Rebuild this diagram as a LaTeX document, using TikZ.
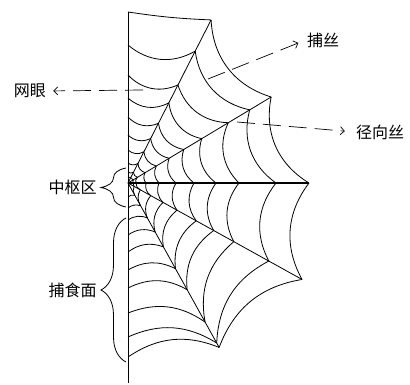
\documentclass[tikz,border=0pt]{standalone}
\usepackage{fontspec}
\setmainfont{Noto Sans CJK SC}
\usetikzlibrary{arrows.meta,decorations.pathreplacing}

\tikzset{
  silk/.style={line width=0.8pt},
  spoke/.style={line width=1.8pt},
  pointer/.style={line width=0.7pt, dash pattern=on 18pt off 8pt,
    -{Straight Barb[length=4pt,width=8pt]}},
  bracket/.style={decorate, decoration={brace, amplitude=25pt}, line width=0.8pt},
  lbl/.style={font=\fontsize{16}{18}\selectfont, inner sep=1pt},
}

\begin{document}
\begin{tikzpicture}[x=1pt,y=1pt]
  \useasboundingbox (-128,-202) rectangle (282,183);
  \coordinate (hub) at (0,0);
  % radials: angle / distances of the turns, the last one is the frame
  \foreach \a/\rs [count=\i] in {
      90/{6,11,20,33,48,66,85,108,138,171},
      63/{6,12,22,35,50,67,90,110,148,183},
      31/{6,11,20,33,48,65,86,117,142,167},
      0/{5,8,18,31,48,66,88,111,148,181},
      -29/{7,14,26,40,56,78,98,121,161,199},
      -61/{14,26,40,56,73,98,122,159,183,188},
      -90/{14,25,37,52,69,87,105,130,154,174}}{
    \foreach \r [count=\k] in \rs
      \coordinate (p\i-\k) at (\a:\r);
  }
  \coordinate (tail) at (0,-200);

  % spokes
  \draw[silk] (p1-10) -- (tail);
  \foreach \i in {2,3,5,6}
    \draw[silk] (hub) -- (p\i-10);
  \draw[spoke] (hub) -- (p4-10);

  % the spiral, one sector at a time
  \foreach \i/\b in {1/35,2/35,3/35,4/33,5/30,6/28}{
    \pgfmathtruncatemacro\j{\i+1}
    \foreach \k in {1,...,9}
      \draw[silk] (p\i-\k) to[bend right=\b] (p\j-\k);
  }
  % frame
  \draw[silk] (p1-10) to[bend right=3] (p2-10);
  \foreach \i/\b in {2/35,3/35,4/33,5/30,6/28}{
    \pgfmathtruncatemacro\j{\i+1}
    \draw[silk] (p\i-10) to[bend right=\b] (p\j-10);
  }

  % labels
  \node[lbl] (mesh) at (-98,92) {网眼};
  \coordinate (meshfrom) at (15,93);
  \draw[pointer, shorten >=6pt] (meshfrom) -- (mesh.east);

  \node[lbl] (catch) at (195,143) {捕丝};
  \coordinate (catchfrom) at (80,104);
  \draw[pointer, shorten >=8pt] (catchfrom) -- (catch.west);

  \node[lbl] (radial) at (252,51) {径向丝};
  \coordinate (radialfrom) at (109,61);
  \draw[pointer, shorten >=10pt] (radialfrom) -- (radial.west);

  \coordinate (hubtop) at (-2,15);
  \coordinate (hubbot) at (-2,-24);
  \draw[bracket] (hubbot) -- (hubtop)
    node[lbl, midway, left=28pt] (hubzone) {中枢区};

  \coordinate (nettop) at (-2,-35);
  \coordinate (netbot) at (-2,-179);
  \draw[bracket] (netbot) -- (nettop)
    node[lbl, midway, left=28pt] (netzone) {捕食面};
\end{tikzpicture}
\end{document}
